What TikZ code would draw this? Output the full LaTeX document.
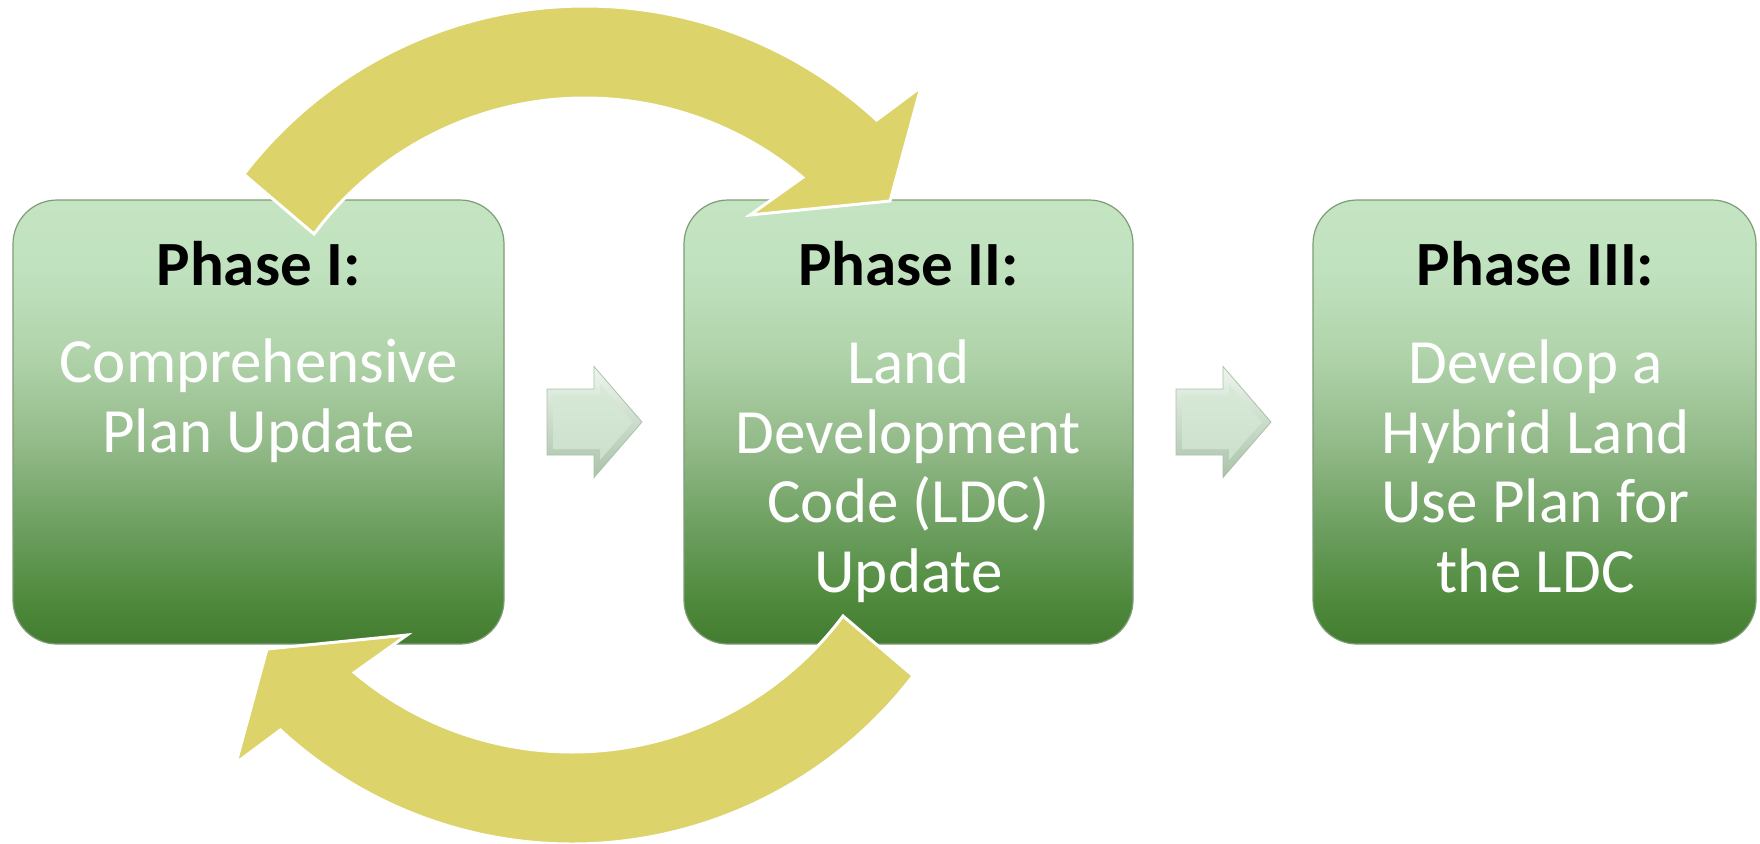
\documentclass[tikz,border=0pt]{standalone}
\usepackage{fontspec}
\setmainfont{Carlito}
\usetikzlibrary{calc}
\definecolor{arrowyellow}{HTML}{DCD36A}
\definecolor{gA}{HTML}{437C30}
\definecolor{gB}{HTML}{4F8A3C}
\definecolor{gC}{HTML}{6A9D5D}
\definecolor{gD}{HTML}{93BA89}
\definecolor{gE}{HTML}{B0D3AA}
\definecolor{gF}{HTML}{C1E2BF}
\definecolor{gG}{HTML}{C4E4C2}
\definecolor{boxrim}{HTML}{7E9C78}
\definecolor{mintlight}{HTML}{EEF6EE}
\definecolor{mintface}{HTML}{D8E9D8}
\definecolor{mintfacedark}{HTML}{CCE0CC}
\definecolor{mintdark}{HTML}{A9C2A9}
\pgfdeclareverticalshading{phasesh}{100bp}{color(0bp)=(gA); color(25bp)=(gA); color(30bp)=(gB); color(37.5bp)=(gC); color(47.5bp)=(gD); color(57.5bp)=(gE); color(67.5bp)=(gF); color(75bp)=(gG); color(100bp)=(gG)}
\tikzset{
  phasebox/.style={rectangle, rounded corners=22pt, minimum height=222pt, inner sep=0pt,
    shading=phasesh, draw=boxrim, line width=0.6pt},
  titletext/.style={font=\fontsize{31.5pt}{34.75pt}\selectfont\bfseries, text=black, inner sep=0pt, anchor=base},
  bodytext/.style={font=\fontsize{31.5pt}{34.75pt}\selectfont, text=white, align=center, inner sep=0pt, anchor=base},
  arrowouter/.style={top color=mintlight, bottom color=mintdark, draw=mintdark, line width=0.4pt},
  arrowface/.style={top color=mintface, bottom color=mintfacedark},
  cyclearrow/.style={fill=arrowyellow, draw=white, line width=1.5pt, line join=miter}
}
\begin{document}
\begin{tikzpicture}[x=0.5pt, y=0.5pt, yscale=-1]
\path[use as bounding box] (0,0) rectangle (1760,843);

% phase boxes
\node[phasebox, minimum width=245.5pt] (p1) at (258.5,422) {};
\node[phasebox, minimum width=224.5pt] (p2) at (908.5,422) {};
\node[phasebox, minimum width=221.5pt] (p3) at (1534.5,422) {};

% texts
\node[titletext] (t1) at (258.5,285) {Phase I:};
\node[titletext] (t2) at (908.5,285) {Phase II:};
\node[titletext] (t3) at (1535.5,285) {Phase III:};
\node[bodytext] (b1) at (258.5,452) {Comprehensive\\Plan Update};
\node[bodytext] (b2) at (908.5,592) {Land\\Development\\Code (LDC)\\Update};
\node[bodytext] (b3) at (1535.5,592) {Develop a\\Hybrid Land\\Use Plan for\\the LDC};

% small block arrows between phases
\coordinate (m1) at ($(p1.east)!0.5!(p2.west)$);
\coordinate (m2) at ($(p2.east)!0.5!(p3.west)$);
\foreach \m in {m1,m2}{
  \path[arrowouter] ($(\m)+(-47,-33)$) -- ($(\m)+(0,-33)$) -- ($(\m)+(0,-55.5)$) -- ($(\m)+(48,0)$)
    -- ($(\m)+(0,55.5)$) -- ($(\m)+(0,33)$) -- ($(\m)+(-47,33)$) -- cycle;
  \path[arrowface] ($(\m)+(-41,-27)$) -- ($(\m)+(6,-27)$) -- ($(\m)+(6,-38)$) -- ($(\m)+(39,0)$)
    -- ($(\m)+(6,38)$) -- ($(\m)+(6,27)$) -- ($(\m)+(-41,27)$) -- cycle;
}

% curved cycle arrows
\coordinate (c1) at (585,436);
\draw[cyclearrow] ($(c1)+(-142.5:430)$) arc[start angle=-142.5, end angle=-47.3, radius=430]
  -- (921,87) -- (890,201) -- (750,215) -- ($(c1)+(-49.9:338)$)
  arc[start angle=-49.9, end angle=-143.3, radius=338] -- cycle;
\begin{scope}[rotate around={180:(578.5,425)}]
\coordinate (c2) at (585,436);
\draw[cyclearrow] ($(c2)+(-142.5:430)$) arc[start angle=-142.5, end angle=-47.3, radius=430]
  -- (921,87) -- (890,201) -- (750,215) -- ($(c2)+(-49.9:338)$)
  arc[start angle=-49.9, end angle=-143.3, radius=338] -- cycle;
\end{scope}
\end{tikzpicture}
\end{document}
